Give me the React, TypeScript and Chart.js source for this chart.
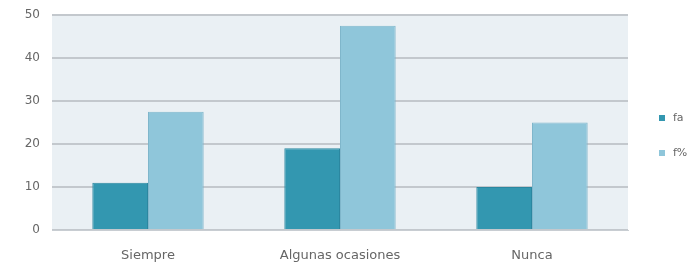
import React, { useEffect, useRef } from "react";
import { Chart, registerables } from "chart.js";

Chart.register(...registerables);

const categories = ["Siempre", "Algunas ocasiones", "Nunca"];
const faValues = [11, 19, 10];
const fPctValues = [27.5, 47.5, 25];
const seriesNames = ["fa", "f%"];
const yTicks = [0, 10, 20, 30, 40, 50];

const DARK = "#3397b0";
const LIGHT = "#8fc6da";
const FONT = "'DejaVu Sans', sans-serif";

const bgPlugin = {
  id: "plotBg",
  beforeDraw(chart: any) {
    const { ctx, chartArea } = chart;
    ctx.save();
    ctx.fillStyle = "#eaf0f4";
    ctx.fillRect(chartArea.left, chartArea.top, chartArea.right - chartArea.left, chartArea.bottom - chartArea.top);
    ctx.restore();
  },
};

const legendPlugin = {
  id: "customLegend",
  afterDraw(chart: any) {
    const { ctx } = chart;
    ctx.save();
    ctx.font = "11px " + FONT;
    ctx.textBaseline = "middle";
    chart.data.datasets.forEach((ds: any, i: number) => {
      const y = 118 + i * 35;
      ctx.fillStyle = ds.backgroundColor;
      ctx.fillRect(659, y - 3, 6, 6);
      ctx.fillStyle = "#666";
      ctx.fillText(ds.label, 673, y);
    });
    ctx.restore();
  },
};

export default function App() {
  const ref = useRef<HTMLCanvasElement | null>(null);
  useEffect(() => {
    document.body.style.margin = "0";
    if (!ref.current) return;
    const chart = new Chart(ref.current, {
      type: "bar",
      data: {
        labels: categories,
        datasets: [
          {
            label: seriesNames[0],
            data: faValues,
            backgroundColor: DARK,
            borderColor: "#2b87a0",
            borderWidth: 1,
            categoryPercentage: 0.58,
            barPercentage: 1,
          },
          {
            label: seriesNames[1],
            data: fPctValues,
            backgroundColor: LIGHT,
            borderColor: "#7fb6cb",
            borderWidth: 1,
            categoryPercentage: 0.58,
            barPercentage: 1,
          },
        ],
      },
      options: {
        animation: false,
        responsive: false,
        layout: { padding: { top: 15, right: 66, left: 0, bottom: 0 } },
        plugins: { legend: { display: false }, tooltip: { enabled: false } },
        scales: {
          x: {
            offset: true,
            grid: { display: false },
            border: { display: true, color: "#c8cdd2", width: 1 },
            ticks: { color: "#666", font: { family: FONT, size: 13 }, padding: 10 },
            afterFit(scale: any) {
              scale.height = 39;
              scale.paddingLeft = 0;
              scale.paddingRight = 0;
            },
          },
          y: {
            min: 0,
            max: 50,
            afterBuildTicks(scale: any) {
              scale.ticks = yTicks.map((v) => ({ value: v }));
            },
            grid: { color: "#c3c8cd", lineWidth: 2, drawTicks: false },
            border: { display: false },
            ticks: { color: "#666", font: { family: FONT, size: 12 }, padding: 12 },
            afterFit(scale: any) {
              scale.width = 52;
              scale.paddingTop = 0;
              scale.paddingBottom = 0;
            },
          },
        },
      },
      plugins: [bgPlugin, legendPlugin],
    });
    return () => chart.destroy();
  }, []);
  return (
    <div style={{ width: 694, height: 269, background: "#fff" }}>
      <canvas ref={ref} width={694} height={269} style={{ display: "block" }} />
    </div>
  );
}
